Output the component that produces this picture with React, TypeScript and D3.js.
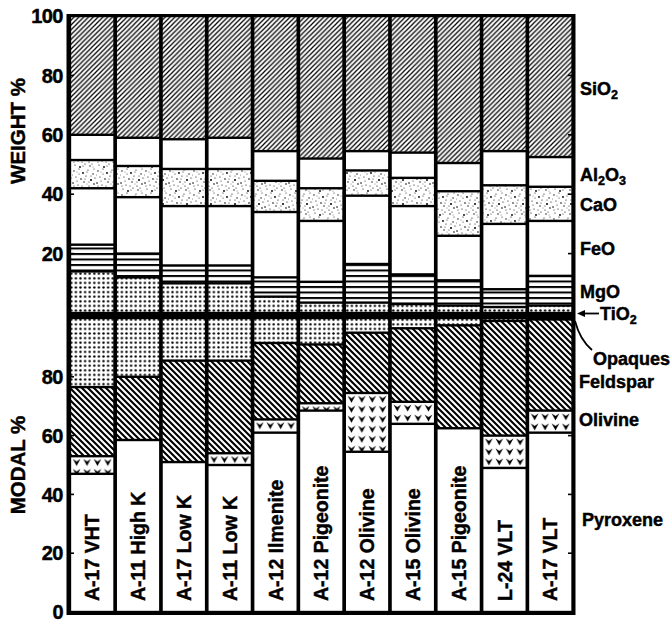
import React from "react";
import * as d3 from "d3";

// ---------- data ----------
const categories = [
  "A-17 VHT", "A-11 High K", "A-17 Low K", "A-11 Low K", "A-12 Ilmenite",
  "A-12 Pigeonite", "A-12 Olivine", "A-15 Olivine", "A-15 Pigeonite", "L-24 VLT", "A-17 VLT",
];

// WEIGHT % (stacked bottom -> top)
const tio2 = [14, 12, 10, 10, 5.5, 3.5, 3.5, 3, 2.5, 2, 2.5];
const mgo = [9, 8, 6, 6, 6.5, 7, 13, 10, 8.5, 6, 10];
const feo = [19, 19, 20, 20, 22, 20.5, 23, 23, 15, 22, 18.5];
const cao = [9.5, 10.5, 12.5, 12.5, 10.5, 11, 8.5, 9.5, 15, 13, 11.5];
const al2o3 = [8.5, 9.5, 10, 10.5, 10, 10, 6.5, 8.5, 9.5, 11.5, 10];
const sio2 = [40, 41, 41.5, 41, 45.5, 48, 45.5, 46, 49.5, 45.5, 47.5];

// MODAL % (stacked bottom -> top)
const pyroxene = [47, 58.5, 51, 50, 61, 68.5, 54.5, 64, 62.5, 49, 61];
const olivine = [6, 0, 0, 4, 4.5, 2.5, 20, 7.5, 0, 11, 7.5];
const feldspar = [23.5, 21.5, 34.5, 31.5, 26, 20, 20.5, 25, 35, 39, 31];
const opaques = [23.5, 20, 14.5, 14.5, 8.5, 9, 5, 3.5, 2.5, 1, 0.5];

const upperTicks = [20, 40, 60, 80, 100];
const lowerTicks = [0, 20, 40, 60, 80];
const innerTicks = [20, 40, 60, 80];

const upperKeys = ["TiO2", "MgO", "FeO", "CaO", "Al2O3", "SiO2"];
const lowerKeys = ["Pyroxene", "Olivine", "Feldspar", "Opaques"];

// stipple texture (decorative tile)
const stippleDots: [number, number, number][] = [
  [2, 3, 0.7], [7, 1, 0.6], [11, 5, 0.9], [16, 2, 0.6], [21, 6, 0.7], [4, 9, 0.6],
  [9, 11, 0.8], [14, 8, 0.6], [19, 12, 1.0], [23, 10, 0.6], [1, 15, 0.8], [6, 17, 0.6],
  [12, 14, 0.7], [17, 18, 0.6], [22, 16, 0.8], [3, 21, 0.6], [8, 23, 0.9], [13, 20, 0.6],
  [18, 22, 0.7], [10, 18, 0.5], [15, 4, 0.5], [20, 20, 0.5], [5, 13, 0.5], [22, 1, 0.5],
  [0, 7, 0.5], [13, 11, 0.5], [7, 6, 0.5], [17, 14, 0.5], [2, 18, 0.5], [11, 22, 0.5],
  [19, 8, 0.5], [5, 4, 0.4], [15, 16, 0.4], [21, 23, 0.4],
];

const FONT = "'Liberation Sans', Arial, Helvetica, sans-serif";

export default function App() {
  const W = 672, H = 624;
  const x = d3.scaleBand<string>().domain(categories).range([67.5, 575]).paddingInner(0.08).paddingOuter(0.08);
  const yU = d3.scaleLinear().domain([0, 100]).range([313, 16]);
  const yL = d3.scaleLinear().domain([0, 100]).range([612, 318]);
  const bw = x.bandwidth();
  const gap = 1.2;

  const upperRows = categories.map((c, i) => ({
    cat: c, TiO2: tio2[i], MgO: mgo[i], FeO: feo[i], CaO: cao[i], Al2O3: al2o3[i], SiO2: sio2[i],
  }));
  const lowerRows = categories.map((c, i) => ({
    cat: c, Pyroxene: pyroxene[i], Olivine: olivine[i], Feldspar: feldspar[i], Opaques: opaques[i],
  }));
  const upperStack = d3.stack<any>().keys(upperKeys)(upperRows);
  const lowerStack = d3.stack<any>().keys(lowerKeys)(lowerRows);

  const upperFill: Record<string, string> = {
    TiO2: "url(#dots)", MgO: "url(#hlines)", FeO: "white", CaO: "url(#stip)", Al2O3: "white", SiO2: "url(#hatchR)",
  };
  const lowerFill = (key: string, i: number) =>
    key === "Pyroxene" ? "white" : key === "Olivine" ? `url(#ol${i})` : key === "Feldspar" ? "url(#hatchL)" : "url(#dots)";

  const olSegs = lowerStack[1].map((d, i) => ({ i, top: yL(d[1]), x0: x(categories[i]) as number }));
  const thick = { stroke: "black", strokeWidth: 0.45 } as const;

  return (
    <svg width={W} height={H} style={{ position: "absolute", left: 0, top: 0, background: "white" }} fontFamily={FONT}>
      <defs>
        <pattern id="hatchR" patternUnits="userSpaceOnUse" width={4.8} height={4.8}>
          <rect width={4.8} height={4.8} fill="white" />
          <path d="M-1.2,1.2 L1.2,-1.2 M0,4.8 L4.8,0 M3.6,6 L6,3.6" stroke="black" strokeWidth={1.25} />
        </pattern>
        <pattern id="hatchL" patternUnits="userSpaceOnUse" width={6} height={6}>
          <rect width={6} height={6} fill="white" />
          <path d="M-1.5,4.5 L1.5,7.5 M0,0 L6,6 M4.5,-1.5 L7.5,1.5" stroke="black" strokeWidth={2.1} />
        </pattern>
        <pattern id="hlines" patternUnits="userSpaceOnUse" width={8} height={5.5}>
          <rect width={8} height={5.5} fill="white" />
          <rect y={0} width={8} height={2} fill="black" />
        </pattern>
        <pattern id="dots" patternUnits="userSpaceOnUse" width={4.6} height={4.6}>
          <rect width={4.6} height={4.6} fill="white" />
          <circle cx={2.3} cy={2.3} r={1.2} fill="black" />
        </pattern>
        <pattern id="stip" patternUnits="userSpaceOnUse" width={24} height={24}>
          <rect width={24} height={24} fill="white" />
          {stippleDots.map(([cx, cy, r], k) => (
            <circle key={k} cx={cx} cy={cy} r={r} fill="black" />
          ))}
        </pattern>
        {olSegs.map((s) => (
          <pattern key={s.i} id={`ol${s.i}`} patternUnits="userSpaceOnUse" x={s.x0 + 0.3} y={s.top + 1.3} width={10.4} height={10}>
            <rect width={10.4} height={10} fill="white" />
            <path d="M1.4,1.6 L5.2,3.9 L9,1.6 L5.2,8.6 Z" fill="black" />
          </pattern>
        ))}
      </defs>

      {/* black frame */}
      <rect x={66.5} y={14} width={509} height={601} fill="black" />

      {/* upper stacked bars */}
      {upperStack.map((layer) =>
        layer.map((d, i) => {
          if (d[1] - d[0] <= 0) return null;
          const y0 = yU(d[1]) + gap, y1 = yU(d[0]) - gap;
          return (
            <rect key={layer.key + i} x={x(categories[i])} y={y0} width={bw} height={Math.max(0, y1 - y0)} fill={upperFill[layer.key]} />
          );
        })
      )}

      {/* lower stacked bars */}
      {lowerStack.map((layer) =>
        layer.map((d, i) => {
          if (d[1] - d[0] <= 0) return null;
          const y0 = yL(d[1]) + gap, y1 = yL(d[0]) - gap;
          return (
            <rect key={layer.key + i} x={x(categories[i])} y={y0} width={bw} height={Math.max(0, y1 - y0)} fill={lowerFill(layer.key, i)} />
          );
        })
      )}

      {/* inner ticks */}
      {innerTicks.map((t) => (
        <g key={"t" + t} stroke="black" strokeWidth={1.6}>
          <line x1={67} x2={74} y1={yU(t)} y2={yU(t)} />
          <line x1={568} x2={575} y1={yU(t)} y2={yU(t)} />
          <line x1={67} x2={74} y1={yL(t)} y2={yL(t)} />
          <line x1={568} x2={575} y1={yL(t)} y2={yL(t)} />
        </g>
      ))}

      {/* tick labels */}
      <g fontSize={20} fontWeight="bold" textAnchor="end" fill="black" {...thick}>
        {upperTicks.map((t) => (
          <text key={"u" + t} x={63} y={yU(t)} dy="0.36em" letterSpacing={-0.5}>{t}</text>
        ))}
        {lowerTicks.map((t) => (
          <text key={"l" + t} x={63} y={yL(t)} dy="0.36em" letterSpacing={-0.5}>{t}</text>
        ))}
      </g>

      {/* axis titles */}
      <g fontSize={20.5} fontWeight="bold" textAnchor="middle" {...thick}>
        <text transform="translate(25,131) rotate(-90)">WEIGHT %</text>
        <text transform="translate(25,465) rotate(-90)">MODAL %</text>
      </g>

      {/* bar labels */}
      <g fontSize={19.5} fontWeight="bold" textAnchor="start" {...thick}>
        {categories.map((c) => {
          const cx = (x(c) as number) + bw / 2 + 7.2;
          return (
            <text key={c} transform={`translate(${cx},601) rotate(-90)`}>{c}</text>
          );
        })}
      </g>

      {/* component labels */}
      <g fontSize={18} fontWeight="bold" {...thick}>
        <text x={580} y={95}>SiO<tspan fontSize={12.5} dy={4}>2</tspan></text>
        <text x={580} y={181}>Al<tspan fontSize={12.5} dy={4}>2</tspan><tspan dy={-4}>O</tspan><tspan fontSize={12.5} dy={4}>3</tspan></text>
        <text x={580} y={211}>CaO</text>
        <text x={580} y={255}>FeO</text>
        <text x={580} y={298}>MgO</text>
        <text x={600} y={320}>TiO<tspan fontSize={12.5} dy={4}>2</tspan></text>
        <text x={593} y={365}>Opaques</text>
        <text x={579} y={388}>Feldspar</text>
        <text x={579} y={426}>Olivine</text>
        <text x={582} y={526}>Pyroxene</text>
      </g>
      {/* TiO2 arrow */}
      <line x1={583} x2={599} y1={313.5} y2={313.5} stroke="black" strokeWidth={1.8} />
      <path d="M577,313.5 L585,310 L585,317 Z" fill="black" />
      {/* Opaques leader */}
      <path d="M575,321 Q580,340 592,350" fill="none" stroke="black" strokeWidth={1.8} />
    </svg>
  );
}
